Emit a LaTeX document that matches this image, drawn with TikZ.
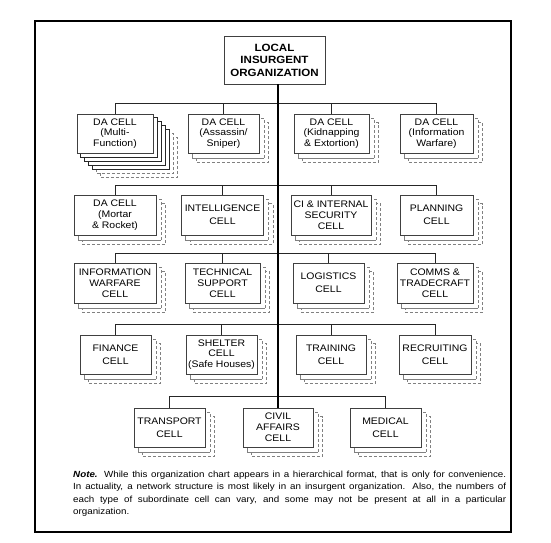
\documentclass[tikz,border=0pt]{standalone}
\usepackage{fontspec}
\setmainfont[FakeStretch=1.1]{Liberation Sans}
\usetikzlibrary{backgrounds}
\newcommand\stdstack[1]{%
  \draw[dashcopy] ([shift={(9,9)}]#1.north west) rectangle ([shift={(9,9)}]#1.south east);
  \fill[white] ([shift={(4.5,4.5)}]#1.north west) rectangle ([shift={(4.5,4.5)}]#1.south east);
  \draw[solidcopy] ([shift={(4.5,4.5)}]#1.north west) -- ([shift={(4.5,4.5)}]#1.south west) -- ([shift={(4.5,4.5)}]#1.south east);
  \draw[dashcopy] ([shift={(4.5,4.5)}]#1.south east) -- ([shift={(4.5,4.5)}]#1.north east) -- ([shift={(4.5,4.5)}]#1.north west);
}
\begin{document}
\begin{tikzpicture}[x=1pt,y=-1pt,
  cellbox/.style={draw=black!75, fill=white, line width=0.8pt, align=center, inner sep=0pt,
    font=\fontsize{9.5}{10.8}\selectfont},
  twoline/.style={font=\fontsize{9.5}{12.8}\selectfont},
  topbox/.style={draw=black!75, fill=white, line width=0.9pt, align=center, inner sep=0pt,
    font=\fontsize{10.5}{12.5}\selectfont\bfseries},
  branch/.style={draw=black!85, line width=0.9pt},
  trunk/.style={draw=black, line width=2pt},
  dashcopy/.style={draw=black!50, fill=white, line width=0.8pt, dash pattern=on 3pt off 2pt},
  solidcopy/.style={draw=black!50, line width=0.8pt},
  darkcopy/.style={draw=black!85, fill=white, line width=0.8pt},
  frame/.style={draw=black, line width=1.2pt}
]
\useasboundingbox (0,0) rectangle (551,542);
\draw[frame] (35,21) rectangle (511,532);

% top
\node[topbox, minimum width=101pt, minimum height=48pt] (top) at (274.5,60) {LOCAL\\INSURGENT\\ORGANIZATION};

% row 1
\node[cellbox, minimum width=76pt, minimum height=39pt] (mf) at (115,133.5) {DA CELL\\(Multi-\\Function)};
\node[cellbox, minimum width=71pt, minimum height=39pt] (as) at (223.5,133.5) {DA CELL\\(Assassin/\\Sniper)};
\node[cellbox, minimum width=75pt, minimum height=39pt] (ki) at (331.5,133.5) {DA CELL\\(Kidnapping\\\& Extortion)};
\node[cellbox, minimum width=73pt, minimum height=39pt] (iw) at (436.5,133.5) {DA CELL\\(Information\\Warfare)};

% row 2
\node[cellbox, minimum width=82pt, minimum height=40pt] (mo) at (115,215) {DA CELL\\(Mortar\\\& Rocket)};
\node[cellbox, twoline, minimum width=82pt, minimum height=40pt] (in) at (222.5,215) {INTELLIGENCE\\CELL};
\node[cellbox, minimum width=80pt, minimum height=40pt] (ci) at (331,215) {CI \& INTERNAL\\SECURITY\\CELL};
\node[cellbox, twoline, minimum width=73pt, minimum height=40pt] (pl) at (436.5,215) {PLANNING\\CELL};

% row 3
\node[cellbox, minimum width=82pt, minimum height=40pt] (wf) at (115,283) {INFORMATION\\WARFARE\\CELL};
\node[cellbox, minimum width=75pt, minimum height=40pt] (ts) at (222.5,283) {TECHNICAL\\SUPPORT\\CELL};
\node[cellbox, twoline, minimum width=71pt, minimum height=40pt] (lo) at (328.5,283) {LOGISTICS\\CELL};
\node[cellbox, minimum width=76pt, minimum height=40pt] (co) at (435,283) {COMMS \&\\TRADECRAFT\\CELL};

% row 4
\node[cellbox, twoline, minimum width=71pt, minimum height=39pt] (fi) at (115.5,354.5) {FINANCE\\CELL};
\node[cellbox, minimum width=71pt, minimum height=39pt] (sh) at (221.5,354.5) {SHELTER\\CELL\\(Safe Houses)};
\node[cellbox, twoline, minimum width=70pt, minimum height=39pt] (tr) at (331,354.5) {TRAINING\\CELL};
\node[cellbox, twoline, minimum width=72pt, minimum height=39pt] (re) at (435,354.5) {RECRUITING\\CELL};

% row 5
\node[cellbox, twoline, minimum width=71pt, minimum height=39pt] (tp) at (169.5,427.5) {TRANSPORT\\CELL};
\node[cellbox, minimum width=70pt, minimum height=39pt] (ca) at (278,427.5) {CIVIL\\AFFAIRS\\CELL};
\node[cellbox, twoline, minimum width=71pt, minimum height=39pt] (me) at (385.5,427.5) {MEDICAL\\CELL};

% shadows
\begin{scope}[on background layer]
  \foreach \k in {6,5} \draw[dashcopy] ([shift={(4*\k,4*\k)}]mf.north west) rectangle ([shift={(4*\k,4*\k)}]mf.south east);
  \foreach \k in {4,3,2,1} \draw[darkcopy] ([shift={(4*\k,4*\k)}]mf.north west) rectangle ([shift={(4*\k,4*\k)}]mf.south east);
  \stdstack{as}\stdstack{ki}\stdstack{iw}
  \stdstack{mo}\stdstack{in}\stdstack{ci}\stdstack{pl}
  \stdstack{wf}\stdstack{ts}\stdstack{lo}\stdstack{co}
  \stdstack{fi}\stdstack{sh}\stdstack{tr}\stdstack{re}
  \stdstack{tp}\stdstack{ca}\stdstack{me}
\end{scope}

% bars
\coordinate (b1) at (278,103);
\coordinate (b2) at (278,185);
\coordinate (b3) at (278,253);
\coordinate (b4) at (278,324);
\coordinate (b5) at (278,396);

\draw[branch] (mf.north) -- (mf.north |- b1) -- (iw.north |- b1) -- (iw.north);
\draw[branch] (as.north) -- (as.north |- b1);
\draw[branch] (ki.north) -- (ki.north |- b1);

\draw[branch] (mo.north) -- (mo.north |- b2) -- (pl.north |- b2) -- (pl.north);
\draw[branch] (in.north) -- (in.north |- b2);
\draw[branch] (ci.north) -- (ci.north |- b2);

\draw[branch] (wf.north) -- (wf.north |- b3) -- (co.north |- b3) -- (co.north);
\draw[branch] (ts.north) -- (ts.north |- b3);
\draw[branch] (lo.north) -- (lo.north |- b3);

\draw[branch] (fi.north) -- (fi.north |- b4) -- (re.north |- b4) -- (re.north);
\draw[branch] (sh.north) -- (sh.north |- b4);
\draw[branch] (tr.north) -- (tr.north |- b4);

\draw[branch] (tp.north) -- (tp.north |- b5) -- (me.north |- b5) -- (me.north);

\draw[trunk] (top.south -| ca.north) -- (ca.north);

% note
\node[anchor=north west, text width=433pt, align=justify, inner sep=0pt,
  font=\fontsize{8.9}{12.3}\selectfont] (note) at (73,471)
  {\textbf{\textit{Note.}} While this organization chart appears in a hierarchical format, that is only for convenience.\linebreak In actuality, a network structure is most likely in an insurgent organization. Also, the numbers of\linebreak each type of subordinate cell can vary, and some may not be present at all in a particular\linebreak organization.};
\end{tikzpicture}
\end{document}
